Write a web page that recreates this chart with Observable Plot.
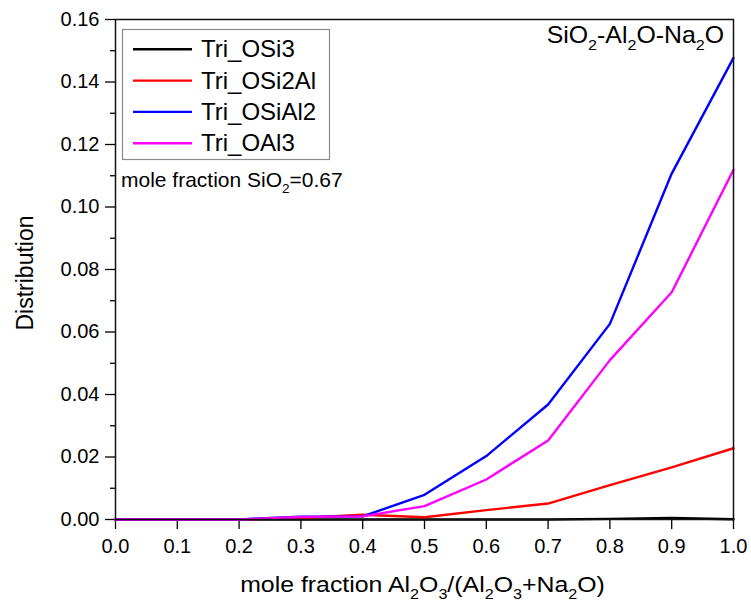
<!DOCTYPE html>
<html><head><meta charset="utf-8">
<script src="https://cdn.jsdelivr.net/npm/d3@7"></script>
<script src="https://cdn.jsdelivr.net/npm/@observablehq/plot@0.6"></script>
<style>
html,body{margin:0;padding:0;background:#fff}
svg{display:block}
</style>
</head><body><div id="chart"></div>
<script>
// ---- data ----
const xValues = [0.0, 0.1, 0.2, 0.3, 0.4, 0.5, 0.6, 0.7, 0.8, 0.9, 1.0];
const seriesNames = ["Tri_OSi3", "Tri_OSi2Al", "Tri_OSiAl2", "Tri_OAl3"];
const triOSi3    = [0, 0, 0, 0, 0, 0, 0, 0, 0.0002, 0.0005, 0.0001];
const triOSi2Al  = [0, 0, 0, 0.0005, 0.0015, 0.0007, 0.0030, 0.0051, 0.0110, 0.0167, 0.0228];
const triOSiAl2  = [0, 0, 0, 0.0009, 0.0010, 0.0079, 0.0203, 0.0368, 0.0626, 0.1107, 0.1477];
const triOAl3    = [0, 0, 0, 0.0008, 0.0010, 0.0043, 0.0128, 0.0253, 0.0510, 0.0727, 0.1119];
const seriesColors = ["#000000", "#ff0000", "#0000ff", "#ff00ff"];
const xTicks = [0.0, 0.1, 0.2, 0.3, 0.4, 0.5, 0.6, 0.7, 0.8, 0.9, 1.0];
const yTicks = [0.00, 0.02, 0.04, 0.06, 0.08, 0.10, 0.12, 0.14, 0.16];
const yMinorTicks = [0.01, 0.03, 0.05, 0.07, 0.09, 0.11, 0.13, 0.15];
const xTitleParts = ["mole fraction Al", {sub: "2"}, "O", {sub: "3"}, "/(Al", {sub: "2"}, "O", {sub: "3"}, "+Na", {sub: "2"}, "O)"];
const yTitleParts = ["Distribution"];
const systemParts = ["SiO", {sub: "2"}, "-Al", {sub: "2"}, "O-Na", {sub: "2"}, "O"];
const noteParts = ["mole fraction SiO", {sub: "2"}, "=0.67"];

const allSeries = [triOSi3, triOSi2Al, triOSiAl2, triOAl3];
const data = [];
seriesNames.forEach((name, i) => {
  allSeries[i].forEach((v, j) => data.push({x: xValues[j], y: v, series: name}));
});

const font = "'Liberation Sans', Arial, Helvetica, sans-serif";

const plot = Plot.plot({
  width: 751,
  height: 602,
  marginLeft: 115,
  marginRight: 18,
  marginTop: 19,
  marginBottom: 83,
  style: {fontFamily: font, fontSize: "20px", color: "#000", background: "#fff", overflow: "visible"},
  x: {domain: [0, 1]},
  y: {domain: [0, 0.16]},
  color: {domain: seriesNames, range: seriesColors},
  marks: [
    Plot.axisY(yMinorTicks, {tickSize: 5, tickFormat: () => "", label: null, strokeWidth: 1.3}),
    Plot.axisY(yTicks, {tickSize: 10, tickPadding: 6, tickFormat: d3.format(".2f"), label: null, fontSize: 20, strokeWidth: 1.3}),
    Plot.axisX(xTicks, {tickSize: 10, tickPadding: 9, tickFormat: d3.format(".1f"), label: null, fontSize: 20, strokeWidth: 1.3}),
    Plot.line(data, {x: "x", y: "y", z: "series", stroke: "series", strokeWidth: 2.4, strokeLinejoin: "round"}),
    Plot.frame({stroke: "#111", strokeWidth: 1.5})
  ]
});

document.getElementById("chart").appendChild(plot);

const svg = d3.select(plot);
const colorScale = plot.scale("color");

function richText(parent, parts, {x, y, size, anchor = "start", rotate = 0, scaleX = 1}) {
  const t = parent.append("text")
    .attr("transform", `translate(${x},${y})` + (rotate ? ` rotate(${rotate})` : "") + (scaleX !== 1 ? ` scale(${scaleX},1)` : ""))
    .attr("font-family", font)
    .attr("font-size", size)
    .attr("text-anchor", anchor)
    .attr("fill", "#000");
  const shift = size * 0.3;
  let lowered = false;
  parts.forEach(p => {
    if (typeof p === "string") {
      const s = t.append("tspan").text(p);
      if (lowered) { s.attr("dy", -shift); lowered = false; }
    } else {
      t.append("tspan").attr("font-size", size * 0.65).attr("dy", shift).text(p.sub);
      lowered = true;
    }
  });
  return t;
}

const ann = svg.append("g");
// axis titles
richText(ann, xTitleParts, {x: 422.5, y: 592, size: 22, anchor: "middle", scaleX: 1.13});
richText(ann, yTitleParts, {x: 33, y: 273, size: 23, anchor: "middle", rotate: -90});
// system label
richText(ann, systemParts, {x: 724, y: 43, size: 23, anchor: "end", scaleX: 1.08});
// composition note
richText(ann, noteParts, {x: 121, y: 187, size: 20, anchor: "start", scaleX: 1.05});

// legend
const legend = svg.append("g");
legend.append("rect")
  .attr("x", 122.5).attr("y", 29.5).attr("width", 207).attr("height", 130)
  .attr("fill", "#fff").attr("stroke", "#8a8a8a").attr("stroke-width", 1.2);
seriesNames.forEach((name, i) => {
  const cy = 49.3 + 31.3 * i;
  legend.append("line")
    .attr("x1", 133).attr("x2", 192).attr("y1", cy).attr("y2", cy)
    .attr("stroke", colorScale.apply(name)).attr("stroke-width", 2.4);
  legend.append("text")
    .attr("x", 201).attr("y", cy + 8)
    .attr("text-anchor", "start")
    .attr("font-family", font).attr("font-size", 24).attr("fill", "#000")
    .text(name);
});
</script>
</body></html>
